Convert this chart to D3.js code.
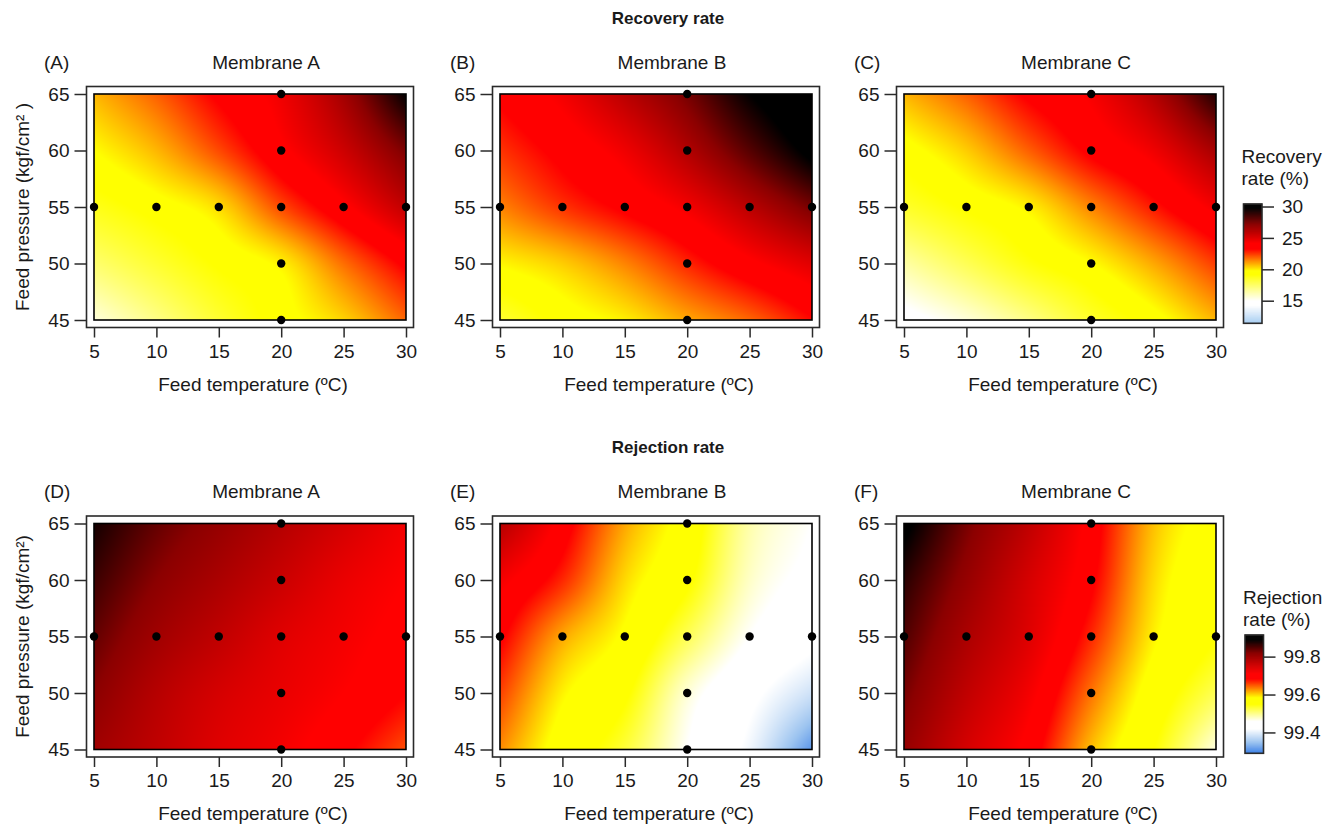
<!DOCTYPE html>
<html>
<head>
<meta charset="utf-8">
<script src="https://cdn.jsdelivr.net/npm/d3@7"></script>
<style>
  html, body { margin: 0; padding: 0; background: #fff; }
  svg text { font-family: "Liberation Sans", Arial, sans-serif; fill: #1a1a1a; }
</style>
</head>
<body>
<svg id="chart" width="1337" height="830"></svg>
<script>
// ---------------- data ----------------
const temperatures = [5, 10, 15, 20, 25, 30];          // Feed temperature (ºC)
const pressures = [45, 50, 55, 60, 65];                 // Feed pressure (kgf/cm²)
const tempTicks = [5, 10, 15, 20, 25, 30];
const pressureTicks = [45, 50, 55, 60, 65];

// Experimental design points
const designTemps = [5, 10, 15, 20, 25, 30, 20, 20, 20, 20];
const designPressures = [55, 55, 55, 55, 55, 55, 45, 50, 60, 65];

// Response surfaces: rows = pressures (45..65), columns = temperatures (5..30)
const recoveryA = [
  [15.6, 17.0, 18.4, 19.5, 20.4, 21.9],
  [17.4, 18.4, 19.3, 20.0, 21.8, 23.5],
  [18.8, 19.5, 20.3, 22.3, 24.0, 25.8],
  [19.8, 20.8, 22.3, 24.0, 25.5, 27.5],
  [20.8, 22.0, 23.5, 24.6, 26.6, 29.8]
];
const recoveryB = [
  [18.4, 19.4, 20.0, 21.0, 21.9, 23.2],
  [19.9, 20.5, 21.5, 22.8, 24.0, 25.0],
  [21.5, 22.6, 23.5, 24.5, 26.0, 27.6],
  [22.6, 23.6, 24.6, 26.2, 28.2, 30.2],
  [23.5, 24.5, 26.0, 27.6, 29.8, 31.2]
];
const recoveryC = [
  [14.5, 15.6, 17.0, 18.5, 19.5, 20.8],
  [16.5, 17.8, 19.0, 19.8, 21.0, 22.5],
  [18.5, 19.3, 20.0, 21.5, 23.0, 24.5],
  [19.5, 20.5, 22.0, 23.5, 24.6, 26.5],
  [20.8, 22.0, 23.5, 24.4, 26.2, 29.2]
];
const rejectionA = [
  [99.80, 99.77, 99.74, 99.72, 99.69, 99.655],
  [99.82, 99.78, 99.75, 99.73, 99.71, 99.685],
  [99.84, 99.80, 99.77, 99.74, 99.72, 99.70],
  [99.86, 99.82, 99.79, 99.76, 99.73, 99.71],
  [99.88, 99.84, 99.81, 99.78, 99.75, 99.72]
];
const rejectionB = [
  [99.63, 99.57, 99.53, 99.46, 99.41, 99.31],
  [99.66, 99.59, 99.555, 99.475, 99.43, 99.385],
  [99.69, 99.62, 99.58, 99.52, 99.46, 99.43],
  [99.72, 99.67, 99.60, 99.555, 99.48, 99.45],
  [99.78, 99.70, 99.62, 99.57, 99.49, 99.46]
];
const rejectionC = [
  [99.81, 99.75, 99.70, 99.61, 99.55, 99.47],
  [99.83, 99.77, 99.72, 99.64, 99.57, 99.52],
  [99.85, 99.79, 99.74, 99.67, 99.59, 99.55],
  [99.87, 99.81, 99.75, 99.69, 99.60, 99.56],
  [99.90, 99.83, 99.77, 99.70, 99.61, 99.57]
];

// Colour scales (legend)
const recoveryStops = [11.4, 14.3, 15.0, 19.2, 19.8, 23.3, 24.2, 27.2, 29.8];
const recoveryColors = ["#a6cdf2", "#ffffff", "#ffffff", "#ffff00", "#ffff00", "#ff0000", "#ff0000", "#8b0000", "#000000"];
const recoveryLegendDomain = [11.4, 30.4];
const recoveryLegendTicks = [15, 20, 25, 30];

const rejectionStops = [99.29, 99.35, 99.42, 99.46, 99.55, 99.585, 99.685, 99.71, 99.82, 99.89];
const rejectionColors = ["#3a7ee6", "#9cc4f0", "#ffffff", "#ffffff", "#ffff00", "#ffff00", "#ff0000", "#ff0000", "#8b0000", "#000000"];
const rejectionLegendDomain = [99.29, 99.914];
const rejectionLegendTicks = [99.4, 99.6, 99.8];

const panelLetters = ["(A)", "(B)", "(C)", "(D)", "(E)", "(F)"];
const membraneNames = ["Membrane A", "Membrane B", "Membrane C"];
const rowTitles = ["Recovery rate", "Rejection rate"];
const yTitles = ["Feed pressure (kgf/cm\u00b2 )", "Feed pressure (kgf/cm\u00b2)"];
const xTitle = "Feed temperature (\u00baC)";

// ---------------- layout ----------------
const svg = d3.select("#chart");
const colLefts = [94, 500, 904];
const rowTops = [94, 523.5];
const innerW = 312, innerH = 226;
const pad = 7.5;
const FONT = 19;

const recoveryColor = d3.scaleLinear().domain(recoveryStops).range(recoveryColors).clamp(true);
const rejectionColor = d3.scaleLinear().domain(rejectionStops).range(rejectionColors).clamp(true);

const rows = [
  { grids: [recoveryA, recoveryB, recoveryC], color: recoveryColor },
  { grids: [rejectionA, rejectionB, rejectionC], color: rejectionColor }
];

// smooth (Catmull-Rom) lookup in a grid
const tIdx = d3.scaleLinear().domain(d3.extent(temperatures)).range([0, temperatures.length - 1]).clamp(true);
const pIdx = d3.scaleLinear().domain(d3.extent(pressures)).range([0, pressures.length - 1]).clamp(true);
function cr(p0, p1, p2, p3, t) {
  return 0.5 * (2 * p1 + (-p0 + p2) * t + (2 * p0 - 5 * p1 + 4 * p2 - p3) * t * t + (-p0 + 3 * p1 - 3 * p2 + p3) * t * t * t);
}
function at(arr, i) {
  const n = arr.length;
  if (i < 0) return 2 * arr[0] - arr[1];
  if (i > n - 1) return 2 * arr[n - 1] - arr[n - 2];
  return arr[i];
}
function interp1(arr, f) {
  const i = Math.min(Math.floor(f), arr.length - 2), u = f - i;
  return cr(at(arr, i - 1), at(arr, i), at(arr, i + 1), at(arr, i + 2), u);
}
function surface(grid, t, p) {
  const fi = tIdx(t), fj = pIdx(p);
  const col = grid.map(rowVals => interp1(rowVals, fi));
  return interp1(col, fj);
}

rows.forEach((row, r) => {
  const top = rowTops[r];
  svg.append("text")
    .attr("x", 668).attr("y", top - 76)
    .attr("text-anchor", "middle")
    .attr("dominant-baseline", "central")
    .style("font-size", "17px").style("font-weight", "bold")
    .text(rowTitles[r]);

  row.grids.forEach((grid, c) => {
    const left = colLefts[c];
    const x = d3.scaleLinear().domain([5, 30]).range([left, left + innerW]);
    const y = d3.scaleLinear().domain([45, 65]).range([top + innerH, top]);
    const g = svg.append("g");

    const W = Math.round(innerW), H = Math.round(innerH);
    const canvas = document.createElement("canvas");
    canvas.width = W; canvas.height = H;
    const ctx = canvas.getContext("2d");
    const img = ctx.createImageData(W, H);
    for (let py = 0; py < H; py++) {
      const p = y.invert(top + py + 0.5);
      for (let px = 0; px < W; px++) {
        const t = x.invert(left + px + 0.5);
        const col = d3.rgb(row.color(surface(grid, t, p)));
        const k = (py * W + px) * 4;
        img.data[k] = col.r; img.data[k + 1] = col.g; img.data[k + 2] = col.b; img.data[k + 3] = 255;
      }
    }
    ctx.putImageData(img, 0, 0);
    g.append("image")
      .attr("x", left).attr("y", top)
      .attr("width", innerW).attr("height", innerH)
      .attr("preserveAspectRatio", "none")
      .attr("href", canvas.toDataURL());

    g.append("rect")
      .attr("x", left).attr("y", top).attr("width", innerW).attr("height", innerH)
      .attr("fill", "none").attr("stroke", "#000").attr("stroke-width", 1.6);
    g.append("rect")
      .attr("x", left - pad).attr("y", top - pad)
      .attr("width", innerW + 2 * pad).attr("height", innerH + 2 * pad)
      .attr("fill", "none").attr("stroke", "#2a2a2a").attr("stroke-width", 1.6);

    const xAxis = g.append("g")
      .attr("transform", `translate(0,${top + innerH + pad})`)
      .call(d3.axisBottom(x).tickValues(tempTicks).tickSize(10).tickPadding(7).tickFormat(d3.format("d")));
    xAxis.select(".domain").remove();
    xAxis.selectAll("line").attr("stroke", "#2a2a2a").attr("stroke-width", 1.5);
    xAxis.selectAll("text").style("font-size", FONT + "px").attr("fill", "#1a1a1a")
      .style("font-family", '"Liberation Sans", Arial, sans-serif');

    const yAxis = g.append("g")
      .attr("transform", `translate(${left - pad},0)`)
      .call(d3.axisLeft(y).tickValues(pressureTicks).tickSize(12).tickPadding(5).tickFormat(d3.format("d")));
    yAxis.select(".domain").remove();
    yAxis.selectAll("line").attr("stroke", "#2a2a2a").attr("stroke-width", 1.5);
    yAxis.selectAll("text").style("font-size", FONT + "px").attr("fill", "#1a1a1a")
      .style("font-family", '"Liberation Sans", Arial, sans-serif');

    g.selectAll("circle.pt").data(designTemps.map((t, i) => [t, designPressures[i]]))
      .enter().append("circle")
      .attr("cx", d => x(d[0])).attr("cy", d => y(d[1]))
      .attr("r", 4.2).attr("fill", "#000");

    g.append("text")
      .attr("x", left - 50).attr("y", top - 32)
      .attr("dominant-baseline", "central")
      .style("font-size", FONT + "px")
      .text(panelLetters[r * 3 + c]);
    g.append("text")
      .attr("x", left + innerW / 2 + 16).attr("y", top - 32)
      .attr("text-anchor", "middle").attr("dominant-baseline", "central")
      .style("font-size", FONT + "px")
      .text(membraneNames[c]);
    g.append("text")
      .attr("x", left + innerW / 2 + 3).attr("y", top + innerH + 64)
      .attr("text-anchor", "middle").attr("dominant-baseline", "central")
      .style("font-size", FONT + "px")
      .text(xTitle);
    if (c === 0) {
      g.append("text")
        .attr("transform", `translate(22,${top + innerH / 2}) rotate(-90)`)
        .attr("text-anchor", "middle").attr("dominant-baseline", "central")
        .style("font-size", FONT + "px")
        .text(yTitles[r]);
    }
  });
});

function legend(opts) {
  const g = svg.append("g");
  const ly = d3.scaleLinear().domain(opts.domain).range([opts.bottom, opts.top]);
  const n = 240, step = (opts.domain[1] - opts.domain[0]) / n;
  const steps = d3.range(n).map(i => opts.domain[0] + i * step);
  g.selectAll("rect.sw").data(steps).enter().append("rect")
    .attr("x", opts.left).attr("width", opts.width)
    .attr("y", d => ly(d + step) - 0.3)
    .attr("height", d => ly(d) - ly(d + step) + 0.6)
    .attr("fill", d => opts.color(d + step / 2));
  g.append("rect")
    .attr("x", opts.left).attr("y", opts.top).attr("width", opts.width).attr("height", opts.bottom - opts.top)
    .attr("fill", "none").attr("stroke", "#2a2a2a").attr("stroke-width", 1.6);
  const ax = g.append("g").attr("transform", `translate(${opts.left + opts.width},0)`)
    .call(d3.axisRight(ly).tickValues(opts.ticks).tickSize(12).tickPadding(8).tickFormat(opts.format));
  ax.select(".domain").remove();
  ax.selectAll("line").attr("stroke", "#2a2a2a").attr("stroke-width", 1.5);
  ax.selectAll("text").style("font-size", FONT + "px").attr("fill", "#1a1a1a")
    .style("font-family", '"Liberation Sans", Arial, sans-serif');
  opts.title.forEach((line, i) => {
    g.append("text").attr("x", opts.left - 2).attr("y", opts.titleY + i * 22)
      .attr("dominant-baseline", "central")
      .style("font-size", FONT + "px").text(line);
  });
}
legend({ domain: recoveryLegendDomain, ticks: recoveryLegendTicks, color: recoveryColor,
  left: 1243.5, width: 18.5, top: 204, bottom: 323.3, title: ["Recovery", "rate (%)"], titleY: 156,
  format: d3.format("d") });
legend({ domain: rejectionLegendDomain, ticks: rejectionLegendTicks, color: rejectionColor,
  left: 1245, width: 18.5, top: 635, bottom: 753.3, title: ["Rejection", "rate (%)"], titleY: 597,
  format: d3.format(".1f") });
</script>
</body>
</html>
